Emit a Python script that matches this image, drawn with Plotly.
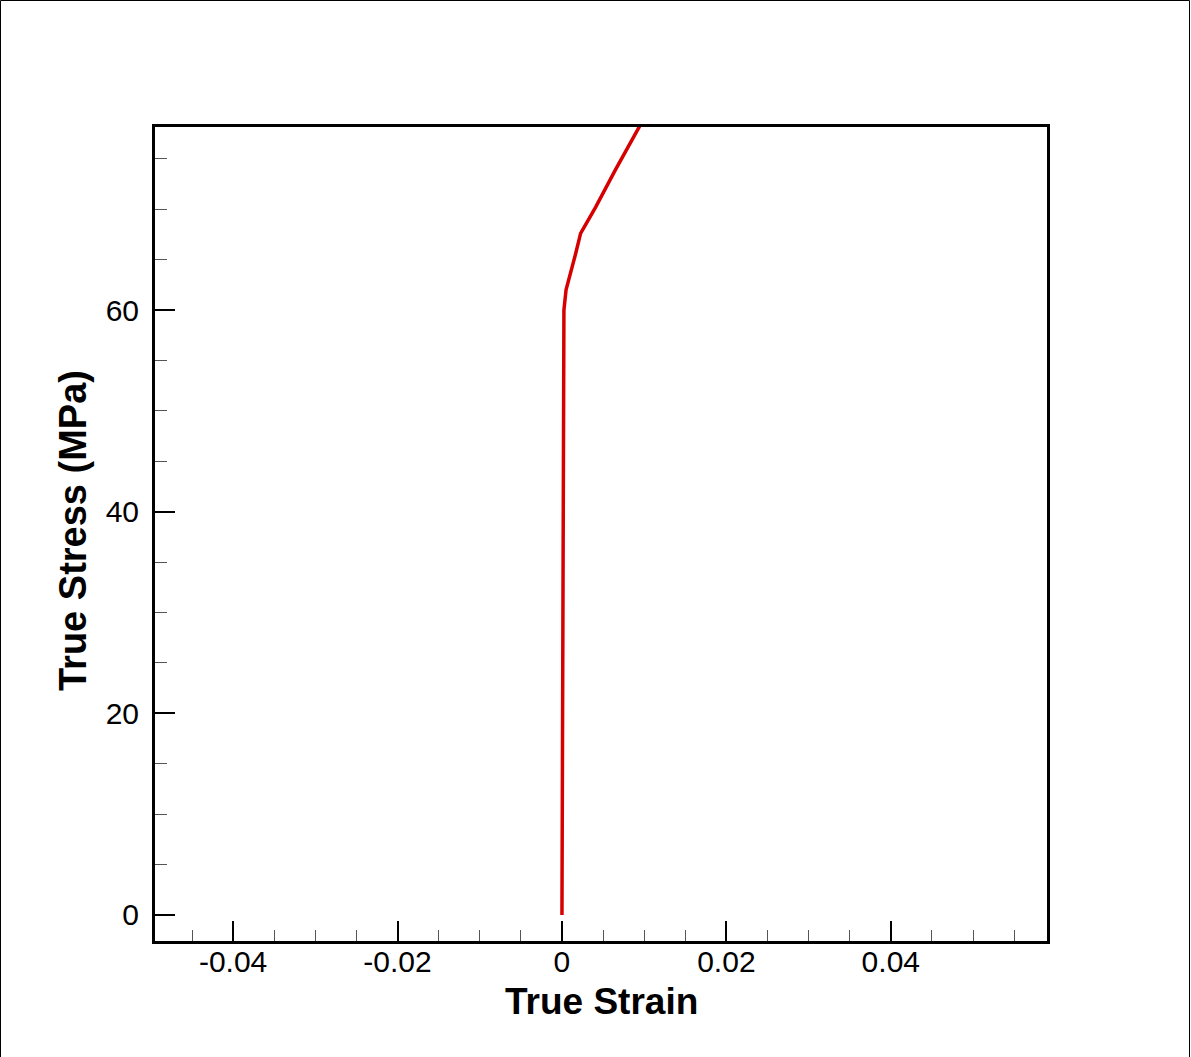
import plotly.graph_objects as go

# Data
strain = [0.0, 0.00005, 0.0001, 0.00015, 0.0002, 0.00024, 0.0005, 0.00106, 0.00167, 0.00227, 0.0041, 0.0065, 0.0097]
stress = [0.0, 20.0, 40.0, 50.0, 56.0, 60.0, 62.0, 63.6, 65.6, 67.6, 70.2, 73.9, 78.6]

x_range = [-0.0495, 0.059]
y_range = [-2.58, 78.15]
x_ticks = [-0.04, -0.02, 0, 0.02, 0.04]
x_tick_text = ["-0.04", "-0.02", "0", "0.02", "0.04"]
y_ticks = [0, 20, 40, 60]
y_tick_text = ["0", "20", "40", "60"]
x_title = "True Strain"
y_title = "True Stress (MPa)"

fig = go.Figure()
fig.add_trace(go.Scatter(x=strain, y=stress, mode="lines",
                         line=dict(color="#d60000", width=3.5), showlegend=False))

font_family = "Liberation Sans, Arial, Helvetica, sans-serif"

common = dict(
    showgrid=False, zeroline=False, showline=True, linecolor="black", linewidth=3,
    mirror=True, ticks="inside", ticklen=20, tickwidth=2, tickcolor="black",
    tickfont=dict(family=font_family, size=30, color="black"),
)

fig.update_xaxes(
    range=x_range, tickvals=x_ticks, ticktext=x_tick_text, ticklabelstandoff=-8,
    minor=dict(dtick=0.005, tick0=0, ticks="inside", ticklen=11, tickwidth=1, tickcolor="#555555"),
    **common,
)
fig.update_yaxes(
    range=y_range, tickvals=y_ticks, ticktext=y_tick_text, ticklabelstandoff=7,
    minor=dict(dtick=5, tick0=0, ticks="inside", ticklen=12, tickwidth=1, tickcolor="#555555"),
    **common,
)

W, H = 1191, 1057
ml, mr, mt, mb = 155, 144, 127, 116
pw, ph = W - ml - mr, H - mt - mb

# axis titles
fig.add_annotation(text="<b>%s</b>" % x_title, xref="paper", yref="paper",
                   x=(601 - ml) / pw, y=(mt + ph - 1001) / ph, xanchor="center", yanchor="middle",
                   showarrow=False, font=dict(family=font_family, size=37, color="black"))
fig.add_annotation(text="<b>%s</b>" % y_title, xref="paper", yref="paper",
                   x=(73 - ml) / pw, y=(mt + ph - 531) / ph, xanchor="center", yanchor="middle",
                   textangle=-90, showarrow=False, font=dict(family=font_family, size=38, color="black"))

# outer frame around the whole image
fig.add_shape(type="rect", xref="paper", yref="paper",
              x0=(0.5 - ml) / pw, x1=(1189.5 - ml) / pw,
              y0=(mt + ph - 1060) / ph, y1=(mt + ph - 0.5) / ph,
              line=dict(color="black", width=1), layer="above")

fig.update_layout(
    width=W, height=H,
    margin=dict(l=ml, r=mr, t=mt, b=mb, autoexpand=False),
    paper_bgcolor="white", plot_bgcolor="white",
)

fig.write_html("out.html", config={"displayModeBar": False},
               post_script="document.body.style.margin='0';document.body.style.overflow='hidden';")
